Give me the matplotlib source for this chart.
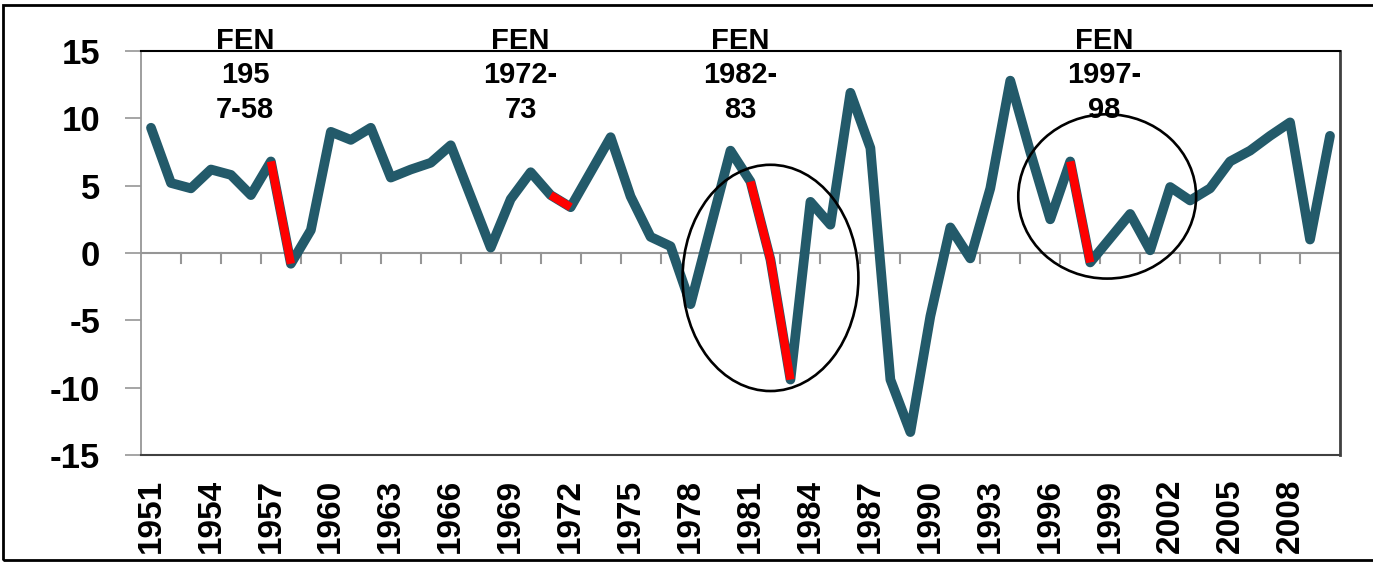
import matplotlib
matplotlib.use("Agg")
import matplotlib.pyplot as plt
from matplotlib.patches import Ellipse, Rectangle

plt.rcParams['font.family'] = ['Liberation Sans', 'DejaVu Sans']
plt.rcParams['font.weight'] = 'bold'
plt.rcParams['axes.unicode_minus'] = False

# Datos: crecimiento anual (%) 1951-2010
years = list(range(1951, 2011))
values = [9.3, 5.2, 4.8, 6.2, 5.8, 4.3, 6.8, -0.8, 1.7, 9.0,
          8.4, 9.3, 5.6, 6.2, 6.7, 8.0, 4.2, 0.4, 4.0, 6.0,
          4.3, 3.4, 6.0, 8.6, 4.2, 1.2, 0.5, -3.8, 1.9, 7.6,
          5.3, -0.5, -9.4, 3.8, 2.1, 11.9, 7.8, -9.4, -13.3, -4.7,
          1.9, -0.4, 4.8, 12.8, 7.5, 2.5, 6.8, -0.7, 1.1, 2.9,
          0.2, 4.9, 3.9, 4.8, 6.8, 7.6, 8.7, 9.7, 1.0, 8.7]

# episodios FEN (tramo en rojo)
fen_start = [1957, 1971, 1981, 1997]
fen_end = [1958, 1972, 1983, 1998]
fen_labels = ['FEN\n195\n7-58', 'FEN\n1972-\n73', 'FEN\n1982-\n83', 'FEN\n1997-\n98']
fen_label_year = [1955.7, 1969.5, 1980.5, 1998.7]

# circulos alrededor de 1982-83 y 1997-98
circ_year = [1982.0, 1998.85]
circ_val = [-1.85, 4.2]
circ_w = [8.8, 8.9]
circ_h = [16.8, 12.2]

teal = '#235A6A'
x = list(range(len(years)))

fig = plt.figure(figsize=(13.73, 5.63), dpi=100)
ax = fig.add_axes([141/1373, 1 - 455/563, 1199/1373, 404/563])

ax.axhline(0, color='#969696', lw=1.5, zorder=1)
for b in range(2, len(years), 2):
    ax.plot([b - 0.5, b - 0.5], [0, -0.75], color='#969696', lw=1.5, zorder=1)

ax.plot(x, values, color=teal, lw=7, solid_joinstyle='round', solid_capstyle='round', zorder=3)
for s, e in zip(fen_start, fen_end):
    i0, i1 = years.index(s), years.index(e)
    ax.plot(x[i0:i1 + 1], values[i0:i1 + 1], color='#FF0000', lw=6,
            solid_capstyle='butt', zorder=4)

for lab, yr in zip(fen_labels, fen_label_year):
    ax.text(yr - years[0], 13.2, lab, ha='center', va='center', fontsize=21,
            fontweight='bold', linespacing=1.3, clip_on=False, zorder=2)

for cy, cv, w, h in zip(circ_year, circ_val, circ_w, circ_h):
    ax.add_patch(Ellipse((cy - years[0], cv), w, h, fill=False, ec='black', lw=1.9, zorder=5))

ax.set_xlim(-0.5, len(years) - 0.5)
ax.set_ylim(-15, 15)
ax.set_yticks(range(-15, 16, 5))
ax.tick_params(axis='y', direction='out', length=11.5, width=1.2, color='#969696',
               labelsize=25, pad=18)
ax.set_xticks(x[::3])
ax.set_xticklabels([str(y) for y in years[::3]], rotation=90, fontsize=24)
ax.tick_params(axis='x', length=0, pad=17)

ax.spines['left'].set_color('#969696')
ax.spines['left'].set_linewidth(1.3)
ax.spines['top'].set_color('black')
ax.spines['top'].set_linewidth(1.5)
ax.spines['right'].set_color('#404040')
ax.spines['right'].set_linewidth(2)
ax.spines['bottom'].set_color('#404040')
ax.spines['bottom'].set_linewidth(1.5)

fig.patches.append(Rectangle((3/1373, 3/563), 1.1, 555/563, transform=fig.transFigure,
                             fill=False, ec='black', lw=2))

fig.savefig('out.png', dpi=100)
